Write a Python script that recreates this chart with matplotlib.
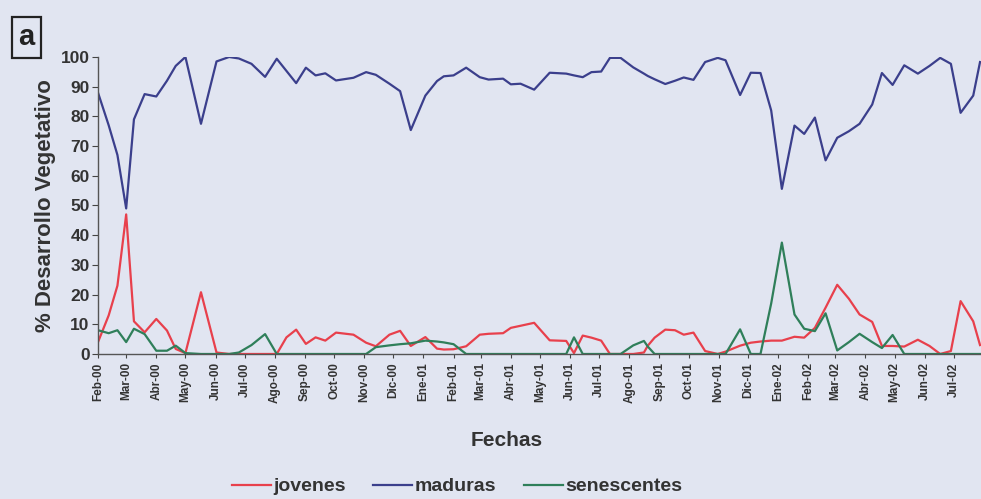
import matplotlib
matplotlib.use("Agg")
import matplotlib.pyplot as plt
import matplotlib.dates as mdates
import pandas as pd

plt.rcParams['font.family'] = ['Liberation Sans', 'DejaVu Sans']

# sampling dates
fechas = [
    '2000-02-01', '2000-02-12', '2000-02-21', '2000-03-01', '2000-03-09', '2000-03-20',
    '2000-04-01', '2000-04-12', '2000-04-21', '2000-05-01', '2000-05-17', '2000-06-02',
    '2000-06-15', '2000-06-25', '2000-07-08', '2000-07-22', '2000-08-03', '2000-08-13',
    '2000-08-23', '2000-09-02', '2000-09-12', '2000-09-22', '2000-10-03', '2000-10-21',
    '2000-11-03', '2000-11-13', '2000-11-27', '2000-12-08', '2000-12-19', '2001-01-03',
    '2001-01-15', '2001-01-22', '2001-02-01', '2001-02-14', '2001-02-28', '2001-03-09',
    '2001-03-24', '2001-04-01', '2001-04-11', '2001-04-25', '2001-05-11', '2001-05-28',
    '2001-06-05', '2001-06-14', '2001-06-23', '2001-07-03', '2001-07-12', '2001-07-23',
    '2001-08-05', '2001-08-16', '2001-08-20', '2001-08-27', '2001-09-07', '2001-09-17',
    '2001-09-26', '2001-10-06', '2001-10-18', '2001-10-31', '2001-11-08', '2001-11-23',
    '2001-12-04', '2001-12-14', '2001-12-25', '2002-01-05', '2002-01-18', '2002-01-28',
    '2002-02-08', '2002-02-19', '2002-03-03', '2002-03-15', '2002-03-26', '2002-04-08',
    '2002-04-18', '2002-04-29', '2002-05-11', '2002-05-25', '2002-06-06', '2002-06-17',
    '2002-06-28', '2002-07-08', '2002-07-21', '2002-07-28',
]

maduras = [
    88, 77, 67, 49, 79, 87.5, 86.7, 92, 97, 100, 77.5, 98.5,
    100, 99.5, 97.7, 93.3, 99.4, 95.3, 91.2, 96.4, 93.8, 94.5, 92.1, 93,
    94.9, 94, 91, 88.5, 75.4, 87, 91.9, 93.5, 93.8, 96.4, 93.2, 92.4,
    92.7, 90.8, 91, 89, 94.7, 94.4, 93.8, 93.2, 94.9, 95.1, 99.7, 99.7,
    96.5, 94.4, 93.6, 92.5, 90.9, 92, 93.1, 92.3, 98.3, 99.7, 98.9, 87.2,
    94.7, 94.6, 82, 55.6, 76.9, 74.1, 79.6, 65.2, 72.8, 75, 77.5, 84,
    94.6, 90.6, 97.2, 94.4, 97, 99.7, 97.7, 81.2, 87, 98.3,
]

jovenes = [
    4, 13, 23, 47, 11, 7.3, 11.8, 7.9, 1.7, 0.3, 20.8, 0.5,
    0, 0, 0, 0, 0, 5.6, 8.2, 3.4, 5.6, 4.5, 7.2, 6.5,
    3.8, 2.6, 6.5, 7.8, 2.7, 5.7, 1.8, 1.5, 1.6, 2.6, 6.5, 6.8,
    7, 8.8, 9.5, 10.5, 4.6, 4.4, 0.3, 6.2, 5.5, 4.5, 0, 0,
    0, 0.5, 2.8, 5.5, 8.2, 8, 6.5, 7.2, 1, 0, 0.8, 2.8,
    3.8, 4.2, 4.5, 4.5, 5.8, 5.5, 8.8, 15.6, 23.3, 18.6, 13.3, 10.8,
    2.7, 2.7, 2.5, 4.8, 2.7, 0, 1, 17.8, 11, 3,
]

senescentes = [
    8, 7, 8, 4, 8.5, 6.7, 1.1, 1.1, 2.8, 0.3, 0, 0,
    0, 0.5, 3, 6.7, 0, 0, 0, 0, 0, 0, 0, 0,
    0, 2.3, 2.9, 3.3, 3.6, 4.5, 4.2, 3.9, 3.3, 0, 0, 0,
    0, 0, 0, 0, 0, 0, 5.6, 0, 0, 0, 0, 0,
    2.9, 4.4, 2.5, 0, 0, 0, 0, 0, 0, 0, 0, 8.3,
    0, 0, 17, 37.5, 13.3, 8.5, 7.7, 13.7, 1.2, 4, 6.8, 4,
    2, 6.4, 0, 0, 0, 0, 0, 0, 0, 0,
]

meses = ['Ene', 'Feb', 'Mar', 'Abr', 'May', 'Jun', 'Jul', 'Ago', 'Sep', 'Oct', 'Nov', 'Dic']

x = pd.to_datetime(fechas)
bg = '#e1e5f1'

fig = plt.figure(figsize=(9.81, 4.99), dpi=100, facecolor=bg)
ax = fig.add_axes([0.0999, 0.2906, 0.9001, 0.5952], facecolor=bg)

ax.plot(x, jovenes, color='#e8404c', lw=1.6, label='jovenes')
ax.plot(x, maduras, color='#3b3f8c', lw=1.6, label='maduras')
ax.plot(x, senescentes, color='#2f7f5a', lw=1.6, label='senescentes')

ax.set_ylim(0, 100)
ax.set_xlim(pd.Timestamp('2000-02-01'), pd.Timestamp('2002-07-29'))
ax.set_yticks(range(0, 101, 10))

ax.xaxis.set_major_locator(mdates.MonthLocator())
ax.xaxis.set_major_formatter(
    plt.FuncFormatter(lambda v, pos: '%s-%s' % (meses[mdates.num2date(v).month - 1],
                                                  mdates.num2date(v).strftime('%y'))))
for lab in ax.get_xticklabels():
    lab.set_rotation(90)

ax.tick_params(axis='x', labelsize=8.5, length=3, color='#444', labelcolor='#333', pad=3)
ax.tick_params(axis='y', labelsize=12.5, length=4, color='#444', labelcolor='#333', pad=2)
for lab in ax.get_xticklabels() + ax.get_yticklabels():
    lab.set_fontweight('bold')

for s in ['top', 'right']:
    ax.spines[s].set_visible(False)
for s in ['left', 'bottom']:
    ax.spines[s].set_color('#555')
    ax.spines[s].set_linewidth(1.0)

fig.text(0.046, 0.589, '% Desarrollo Vegetativo', rotation=90, ha='center', va='center',
         fontsize=16, fontweight='bold', color='#333')
fig.text(0.516, 0.118, 'Fechas', ha='center', va='center', fontsize=15,
         fontweight='bold', color='#333')
fig.text(0.027, 0.925, 'a', ha='center', va='center', fontsize=21, fontweight='bold',
         color='#222', bbox=dict(boxstyle='square,pad=0.22', fc='none', ec='#222', lw=1.6))

leg = fig.legend(loc='center', bbox_to_anchor=(0.466, 0.025), ncol=3, frameon=False,
                 handlelength=2.0, handletextpad=0.15, columnspacing=1.4,
                 prop={'size': 14, 'weight': 'bold'})
for t in leg.get_texts():
    t.set_color('#333')

fig.savefig('out.png', dpi=100, facecolor=bg)
